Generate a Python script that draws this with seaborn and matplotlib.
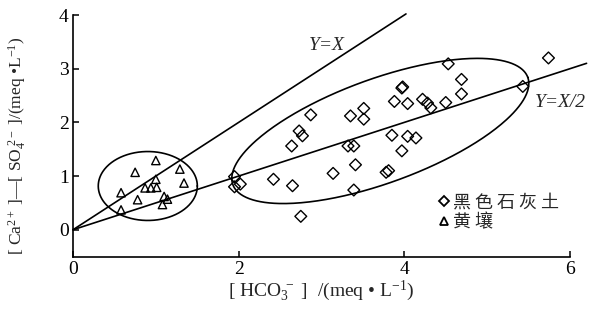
import numpy as np
import pandas as pd
import matplotlib
matplotlib.use("Agg")
import matplotlib.pyplot as plt
import seaborn as sns

# ---- data ----
soil_names = ["黑色石灰土", "黄壤"]
legend_labels = ["黑 色 石 灰 土", "黄 壤"]

black_x = [5.74, 5.43, 4.53, 4.69, 4.69, 4.50, 3.97, 3.98, 3.88, 4.04, 4.22, 4.28, 4.32,
           3.51, 3.51, 3.35, 2.87, 2.73, 2.77, 2.64, 3.32, 3.39, 3.85, 4.04, 4.14, 3.97,
           3.41, 3.14, 3.78, 3.81, 2.42, 2.65, 1.95, 1.95, 2.02, 3.39, 2.75]
black_y = [3.20, 2.67, 3.09, 2.80, 2.53, 2.37, 2.64, 2.66, 2.39, 2.35, 2.43, 2.36, 2.27,
           2.26, 2.06, 2.12, 2.14, 1.84, 1.75, 1.56, 1.56, 1.56, 1.76, 1.74, 1.71, 1.47,
           1.21, 1.05, 1.07, 1.10, 0.94, 0.82, 0.99, 0.80, 0.85, 0.74, 0.25]

yellow_x = [1.00, 0.75, 1.29, 1.34, 1.00, 0.87, 0.94, 1.01, 0.58, 0.78, 1.10, 1.14, 1.08, 0.58]
yellow_y = [1.29, 1.07, 1.13, 0.87, 0.94, 0.78, 0.78, 0.79, 0.69, 0.56, 0.62, 0.57, 0.47, 0.37]

x_ticks = [0, 2, 4, 6]
y_ticks = [0, 1, 2, 3, 4]

# reference lines
line1_x = [0, 4.02]          # Y = X
line2_x = [0, 6.2]           # Y = X/2

# ellipses: centre, major vector, minor vector (data units)
big_c, big_u, big_v = (3.71, 1.84), (1.78, 1.00), (-0.215, 0.91)
small_c, small_u, small_v = (0.903, 0.815), (0.598, 0.0), (0.0, 0.642)

df = pd.DataFrame({
    "x": black_x + yellow_x,
    "y": black_y + yellow_y,
    "soil": [soil_names[0]] * len(black_x) + [soil_names[1]] * len(yellow_x),
})

sns.set_style("ticks")
plt.rcParams["font.family"] = ["Liberation Serif", "Noto Sans CJK SC"]
plt.rcParams["mathtext.fontset"] = "custom"
plt.rcParams["mathtext.rm"] = "Liberation Serif"
plt.rcParams["mathtext.it"] = "Liberation Serif:italic"
plt.rcParams["mathtext.bf"] = "Liberation Serif:bold"

fig = plt.figure(figsize=(6, 3.11), dpi=100)
ax = fig.add_axes([73 / 600, 1 - 256.6 / 311, 497 / 600, 241.6 / 311])

sns.scatterplot(data=df, x="x", y="y", style="soil",
                markers={soil_names[0]: "D", soil_names[1]: "^"},
                color="none", edgecolor="black", linewidth=1.0, s=36,
                ax=ax, legend=True, clip_on=False, zorder=3)

lw = 1.2
ax.plot(line1_x, line1_x, color="black", lw=lw, clip_on=False)
ax.plot(line2_x, [v / 2 for v in line2_x], color="black", lw=lw, clip_on=False)

t = np.linspace(0, 2 * np.pi, 400)
for c, u, v in [(big_c, big_u, big_v), (small_c, small_u, small_v)]:
    ex = c[0] + u[0] * np.cos(t) + v[0] * np.sin(t)
    ey = c[1] + u[1] * np.cos(t) + v[1] * np.sin(t)
    ax.plot(ex, ey, color="black", lw=lw, clip_on=False)

ax.text(3.06, 3.44, "Y=X", fontstyle="italic", fontsize=14, ha="center", va="center")
ax.text(5.88, 2.37, "Y=X/2", fontstyle="italic", fontsize=14, ha="center", va="center",
        clip_on=False)

ax.set_xlim(0, 6)
ax.set_ylim(-0.5, 4)
ax.set_xticks(x_ticks)
ax.set_yticks(y_ticks)
ax.tick_params(direction="in", length=4, width=1.1, labelsize=14, pad=3, color="black",
               labelcolor="black")
for s in ["top", "right"]:
    ax.spines[s].set_visible(False)
for s in ["left", "bottom"]:
    ax.spines[s].set_linewidth(1.2)
    ax.spines[s].set_color("black")

ax.set_xlabel(r"[ HCO$_3^{\ -}$ ]  /(meq • L$^{-1}$)", fontsize=14, labelpad=1)
ax.set_ylabel(r"[ Ca$^{2+}$ ]—[ SO$_4^{\ 2-}$ ]/(meq •L$^{-1}$)", fontsize=12.5)
ax.yaxis.set_label_coords(-0.088, 0.46)

h, l = ax.get_legend_handles_labels()
for hh in h:
    hh.set_markeredgecolor("black")
    hh.set_markerfacecolor("none")
    hh.set_markersize(5.5)
    hh.set_markeredgewidth(1.3)
ax.legend(h, legend_labels, frameon=False, loc="upper left",
          bbox_to_anchor=(0.72, 0.30), handlelength=0.5, handletextpad=0.2,
          labelspacing=0.12, borderpad=0, prop={"family": ["Noto Sans CJK SC"], "size": 13})

fig.savefig("out.png", dpi=100)
